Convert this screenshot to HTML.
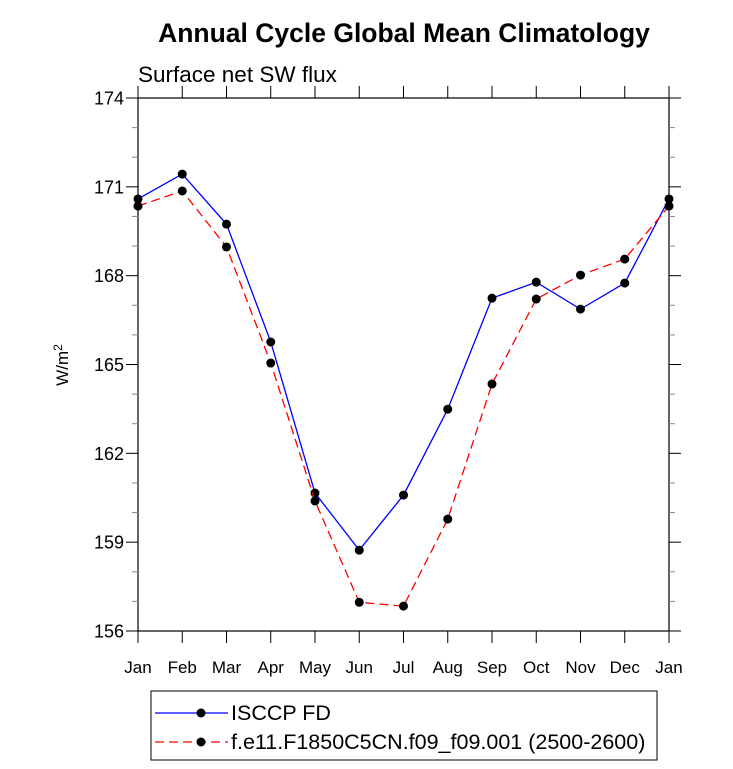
<!DOCTYPE html>
<html><head><meta charset="utf-8"><style>body{margin:0;background:#fff}svg{display:block;font-family:"Liberation Sans",Arial,sans-serif}</style></head>
<body>
<svg id="c" width="733" height="769" xmlns="http://www.w3.org/2000/svg">
<text x="404" y="42" font-size="26.5" font-weight="bold" text-anchor="middle">Annual Cycle Global Mean Climatology</text>
<text x="138" y="82" font-size="22.5">Surface net SW flux</text>
<text transform="translate(68,365) rotate(-90)" font-size="17" text-anchor="middle">W/m<tspan dy="-6" font-size="12">2</tspan></text>
<g id="axes"></g><g id="series"></g>
<rect x="151" y="691" width="506" height="69" fill="none" stroke="#000" stroke-width="1"/>
<line x1="155" y1="713" x2="228" y2="713" stroke="#0000ff" stroke-width="1.3"/>
<circle cx="201" cy="713" r="4.5" fill="#000"/>
<text x="231" y="720" font-size="21.5">ISCCP FD</text>
<line x1="155" y1="742" x2="228" y2="742" stroke="#ff0000" stroke-width="1.3" stroke-dasharray="9,5"/>
<circle cx="201" cy="742" r="4.5" fill="#000"/>
<text x="231" y="749" font-size="21.5">f.e11.F1850C5CN.f09_f09.001 (2500-2600)</text>
</svg>
<script>
const months=["Jan","Feb","Mar","Apr","May","Jun","Jul","Aug","Sep","Oct","Nov","Dec","Jan"];
const isccp=[170.59,171.43,169.74,165.76,160.66,158.73,160.59,163.49,167.24,167.78,166.87,167.75,170.59];
const model=[170.35,170.86,168.97,165.05,160.39,156.97,156.84,159.78,164.34,167.21,168.02,168.56,170.35];
const yTicks=[156,159,162,165,168,171,174];
const L=138,R=669,T=98,B=631,yMin=156,yMax=174;
const xs=i=>L+i*(R-L)/(months.length-1);
const ys=v=>B-(v-yMin)/(yMax-yMin)*(B-T);
const NS="http://www.w3.org/2000/svg";
function mk(t,a,p){const e=document.createElementNS(NS,t);for(const k in a)e.setAttribute(k,a[k]);p.appendChild(e);return e;}
const ax=document.getElementById('axes'),se=document.getElementById('series');
const fr=mk('rect',{x:L,y:T,width:R-L,height:B-T,fill:'none',stroke:'#000','stroke-width':1.2},ax);


for(let v=yMin;v<=yMax;v++){const y=ys(v);const maj=yTicks.includes(v);const len=maj?12:6;
mk('line',{x1:L,y1:y,x2:L-len,y2:y,stroke:maj?'#000':'#888'},ax);
mk('line',{x1:R,y1:y,x2:R+len,y2:y,stroke:maj?'#000':'#888'},ax);}
yTicks.forEach(v=>{const t=mk('text',{x:L-14,y:ys(v)+6.5,'font-size':18,'text-anchor':'end'},ax);t.textContent=v;

});
months.forEach((m,i)=>{const x=xs(i);
mk('line',{x1:x,y1:B,x2:x,y2:B+12,stroke:'#000'},ax);
mk('line',{x1:x,y1:T,x2:x,y2:T-12,stroke:'#000'},ax);
const t=mk('text',{x:x,y:B+42,'font-size':17,'text-anchor':'middle'},ax);t.textContent=m;

});
function series(d,col,dash,name){
const pl=mk('polyline',{points:d.map((v,i)=>xs(i)+','+ys(v)).join(' '),fill:'none',stroke:col,'stroke-width':1.3,'stroke-dasharray':dash},se);


d.forEach((v,i)=>{const c=mk('circle',{cx:xs(i),cy:ys(v),r:4.5,fill:'#000'},se);

});}
series(isccp,'#0000ff','none','isccp');
series(model,'#ff0000','9,5','model');
</script>
</body></html>
